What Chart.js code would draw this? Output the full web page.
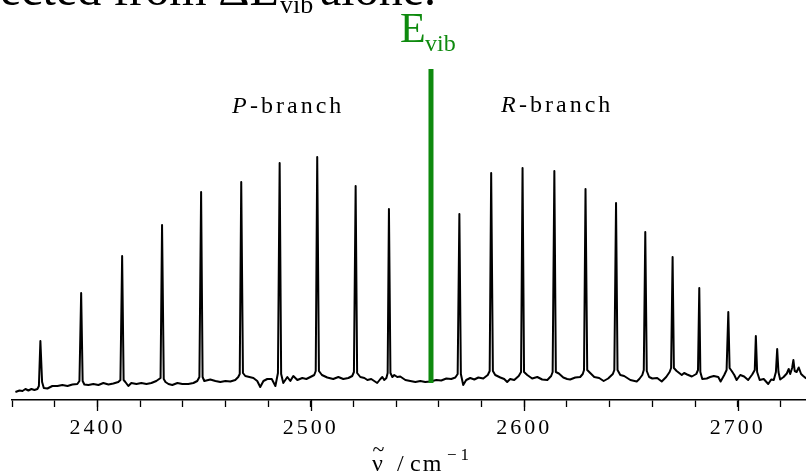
<!DOCTYPE html>
<html><head><meta charset="utf-8">
<script src="https://cdn.jsdelivr.net/npm/chart.js@4.4.1/dist/chart.umd.min.js"></script>
<style>html,body{margin:0;padding:0;background:#fff}canvas{display:block}</style>
</head><body>
<canvas id="c" width="806" height="474"></canvas>
<script>
// Spectrum: wavenumber (cm^-1) and absorption (arb. units)
const wavenumber = [
2361.6,2363.5,2364.9,2366.3,2367.7,2369.1,2370.5,2371.9,2372.6,2373.3,2374.1,2374.9,2376.6,2378.9,2381.3,2383.6,2386.0,2388.3,2390.6,
2391.6,2392.4,2393.1,2393.9,2395.8,2398.1,2400.5,2402.8,2405.2,2407.5,2409.8,
2410.8,2411.6,2412.3,2413.1,2414.5,2415.9,2418.3,2420.6,2423.0,2425.3,2427.6,
2429.6,2430.3,2431.1,2431.9,2433.3,2435.1,2437.5,2439.8,2442.6,2445.0,2446.8,
2447.8,2448.6,2449.3,2450.1,2452.9,2455.3,2457.6,2460.0,2462.3,2464.6,2466.0,
2466.7,2467.4,2468.2,2469.3,2471.2,2473.1,2474.9,2476.3,2477.8,2479.6,2481.7,2483.4,
2484.6,2485.4,2486.1,2487.1,2489.0,2490.4,2491.8,2493.7,2496.0,2497.9,2499.8,2501.6,
2502.3,2503.0,2503.8,2505.2,2507.7,2510.5,2512.9,2515.2,2517.6,2519.4,
2520.2,2521.0,2521.7,2523.2,2525.1,2526.5,2528.3,2529.7,2531.1,2532.6,2533.5,2534.4,2535.4,
2536.0,2536.6,2537.3,2538.2,2539.1,2540.5,2541.9,2544.3,2546.6,2549.0,2551.3,2553.6,2556.0,2558.8,2561.1,2563.5,2565.8,2567.7,
2568.8,2569.6,2570.3,2571.4,2572.8,2574.7,2576.6,2578.5,2580.8,2582.9,
2583.8,2584.5,2585.3,2586.4,2588.8,2590.6,2592.0,2593.4,2595.3,2597.4,
2598.5,2599.2,2599.9,2601.4,2603.7,2606.1,2608.4,2610.8,2612.6,
2613.3,2614.1,2614.8,2616.2,2618.3,2620.1,2621.5,2623.9,2626.2,2627.4,
2628.0,2628.7,2629.5,2630.9,2632.8,2635.1,2637.2,2639.3,2641.5,
2642.2,2643.0,2643.7,2645.0,2646.8,2649.7,2652.7,2653.9,2655.3,
2656.0,2656.7,2657.4,2658.5,2660.0,2662.3,2664.4,2666.5,2668.1,
2668.8,2669.5,2670.1,2671.4,2673.8,2674.9,2676.3,2678.5,2680.6,
2681.4,2682.0,2682.5,2683.4,2685.5,2687.1,2688.8,2690.9,2692.0,2693.7,2694.8,
2695.6,2696.2,2697.2,2698.4,2699.5,2701.2,2703.0,2704.9,2706.8,2708.0,
2708.5,2709.1,2710.3,2712.2,2714.3,2715.7,2716.9,2717.9,
2718.5,2719.1,2719.9,2721.5,2723.0,2723.9,2724.6,2725.5,
2726.1,2726.7,2727.6,2728.6,2729.7,2730.7,2732.1
];
const absorption = [
8,9.5,9,11,9.5,11,10,11,14,59,18,12,11.5,14,14,15,14,15.5,16,
19,107,19,15.5,15,16,15,17,15.5,16.5,18,
20,144,20,18,14,17,16,17,16,17,19,
22,175,21,18,16,15,17,16,16,17,19,
23,208,23,19,20.5,19,18,19,18.5,20,23,
26,218,27,24,23,22,19,13,19,21,21,14,
27,237,26,17,23,19,24,20,22,21,23,25,
29,243,29,25,22.5,21,23,21,22,24,
28,214,27,23,22,20,21,19,17,21,23,20,22,
27,191,27,23,25,23,23.5,20,19,18,19,18,18.5,20,19.5,21.5,21,22.5,
26,186,26,15,20,22,20.5,22.5,21.5,25,
29,227,29,25,22.5,21,18,21,20,24,
28,232,28,25,21.5,23,20.5,20,24,
28,229,28,26.5,22.5,21,20.5,22.5,23,26,
30,211,30,27,23,22,19,21.5,26,
30,197,30,25,24,20,18.5,21,25,
30,168,29,23,21.5,22,18.5,23,28,
32,143,32,29,25,27,25.5,23.5,26,
30,112,28,21,21.5,23,24,23,18.5,25,30,
88,32,29,25,20,25,23.5,20,25.5,30,
64,28,20,21,16,20.5,20,28,
51,28,20.5,23,26.5,31,26,32,
40,29,28,32.5,26,24,21.5
];
// Vibrational band origin marker
const evibX = [2556.3, 2556.3];
const evibY = [17, 331];
// Axis
const majorTickValues = [2400, 2500, 2600, 2700];
const majorTickLabels = ['2400', '2500', '2600', '2700'];

const spectrum = wavenumber.map((w, i) => ({x: w, y: absorption[i]}));
const evib = evibX.map((w, i) => ({x: w, y: evibY[i]}));

const SERIF = '"Liberation Serif", "Times New Roman", serif';
const GREEN = '#0e8a0e';

const overlay = {
  id: 'overlay',
  beforeDraw(chart) { chart.ctx.letterSpacing = '3px'; },
  afterDraw(chart) {
    const ctx = chart.ctx, xs = chart.scales.x, bottom = chart.chartArea.bottom;
    ctx.save();
    // longer major tick marks
    ctx.strokeStyle = '#000'; ctx.lineWidth = 1.3;
    majorTickValues.forEach(v => {
      const px = Math.round(xs.getPixelForValue(v)) + 0.5;
      ctx.beginPath(); ctx.moveTo(px, bottom); ctx.lineTo(px, bottom + 11); ctx.stroke();
    });
    ctx.textBaseline = 'alphabetic'; ctx.textAlign = 'left';
    // cut-off heading fragment at top
    ctx.letterSpacing = '0px';
    ctx.fillStyle = '#000';
    ctx.font = '48px ' + SERIF;
    ctx.fillText('ected from \u0394E', 0, 5);
    ctx.font = '26px ' + SERIF;
    ctx.fillText('vib', 280, 13);
    ctx.font = '48px ' + SERIF;
    ctx.fillText('alone.', 320, 5);
    // E_vib label
    ctx.fillStyle = GREEN;
    ctx.font = '42px ' + SERIF;
    ctx.fillText('E', 400, 42);
    ctx.font = '24px ' + SERIF;
    ctx.fillText('vib', 425, 51);
    // branch labels
    ctx.fillStyle = '#000';
    ctx.letterSpacing = '3px';
    ctx.font = 'italic 24px ' + SERIF;
    ctx.fillText('P', 232, 113);
    ctx.fillText('R', 501, 112);
    ctx.font = '24px ' + SERIF;
    ctx.fillText('-branch', 250, 113);
    ctx.fillText('-branch', 519, 112);
    // axis title: nu with tilde / cm^-1
    ctx.font = '24px ' + SERIF;
    ctx.letterSpacing = '0px';
    ctx.fillText('\u03BD', 372, 471);
    ctx.font = '22px ' + SERIF;
    ctx.textAlign = 'center';
    ctx.fillText('~', 378.5, 456);
    ctx.textAlign = 'left';
    ctx.font = '24px ' + SERIF;
    ctx.fillText('/', 397, 471);
    ctx.letterSpacing = '2px';
    ctx.fillText('cm', 410, 471);
    ctx.letterSpacing = '4px';
    ctx.font = '17px ' + SERIF;
    ctx.fillText('\u22121', 447, 460);
    ctx.restore();
  }
};

new Chart(document.getElementById('c'), {
  type: 'scatter',
  data: {
    datasets: [
      {data: spectrum, showLine: true, borderColor: '#000', borderWidth: 2, pointRadius: 0, tension: 0, borderJoinStyle: 'round', order: 2},
      {data: evib, showLine: true, borderColor: GREEN, borderWidth: 5, pointRadius: 0, borderCapStyle: 'butt', order: 1}
    ]
  },
  options: {
    responsive: false, animation: false, devicePixelRatio: 1,
    layout: {padding: {left: 12, right: 0, top: 60, bottom: 0}},
    plugins: {legend: {display: false}, tooltip: {enabled: false}},
    scales: {
      x: {
        type: 'linear', min: 2360, max: 2732,
        afterFit(s) { s.height = 74; },
        ticks: {
          stepSize: 20, autoSkip: false, includeBounds: false, maxRotation: 0, padding: 8,
          color: '#000', font: {family: SERIF, size: 22},
          callback: v => { const k = majorTickValues.indexOf(v); return k >= 0 ? majorTickLabels[k] : ''; }
        },
        grid: {drawOnChartArea: false, drawTicks: true, tickLength: 7, tickColor: '#000', tickWidth: 1.3},
        border: {display: true, color: '#000', width: 1.5}
      },
      y: {display: false, min: 0, max: 340}
    }
  },
  plugins: [overlay]
});
</script>
</body></html>
